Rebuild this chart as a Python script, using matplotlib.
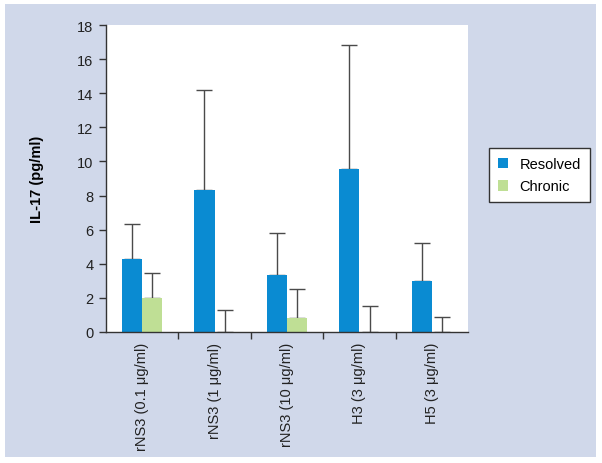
import matplotlib
matplotlib.use("Agg")
import matplotlib.pyplot as plt
import numpy as np
from matplotlib.patches import Rectangle

plt.rcParams['font.family'] = ['Liberation Sans', 'DejaVu Sans']

categories = ["rNS3 (0.1 μg/ml)", "rNS3 (1 μg/ml)", "rNS3 (10 μg/ml)", "H3 (3 μg/ml)", "H5 (3 μg/ml)"]
resolved = [4.26, 8.32, 3.34, 9.54, 3.01]
resolved_err_top = [6.35, 14.18, 5.79, 16.84, 5.24]
chronic = [1.97, 0.0, 0.84, 0.0, 0.0]
chronic_err_top = [3.48, 1.27, 2.52, 1.50, 0.90]
yticks = [0, 2, 4, 6, 8, 10, 12, 14, 16, 18]

blue = "#0a8bd2"
green = "#bfdf95"
panel = "#d0d8ea"
dark = "#333333"

fig = plt.figure(figsize=(6.02, 4.64), dpi=100, facecolor="white")
fig.patches.append(Rectangle((5/602, 1-458/464), 591/602, 453/464, transform=fig.transFigure,
                             facecolor=panel, edgecolor="none", zorder=-10))

ax = fig.add_axes([106/602, 1-333/464, 362/602, 307/464])
ax.set_facecolor("white")

x = np.arange(len(categories))
w = 0.28
ax.bar(x - w/2, resolved, w, color=blue, label="Resolved", zorder=2)
ax.bar(x + w/2, chronic, w, color=green, label="Chronic", zorder=2)

r_up = np.array(resolved_err_top) - np.array(resolved)
c_up = np.array(chronic_err_top) - np.array(chronic)
ax.errorbar(x - w/2, resolved, yerr=[np.zeros(len(x)), r_up], fmt="none",
            ecolor="#4a4a4a", elinewidth=1, capsize=6, capthick=1, zorder=1)
ax.errorbar(x + w/2, chronic, yerr=[np.zeros(len(x)), c_up], fmt="none",
            ecolor="#4a4a4a", elinewidth=1, capsize=6, capthick=1, zorder=1)

ax.set_xlim(-0.5, len(categories) - 0.5)
ax.set_ylim(0, 18)
ax.set_yticks(yticks)
ax.set_yticklabels([str(v) for v in yticks], fontsize=10.5, color="#222222")
ax.set_xticks(x)
ax.set_xticklabels(categories, rotation=90, fontsize=10.5, color="#222222")
ax.tick_params(axis="x", which="major", length=0, pad=7)
ax.set_xticks(np.arange(0.5, len(categories) - 1, 1.0), minor=True)
ax.tick_params(axis="x", which="minor", length=5, width=1, color=dark, direction="out")
ax.tick_params(axis="y", length=5, width=1, color=dark, direction="out", pad=4)

for s in ["top", "right"]:
    ax.spines[s].set_visible(False)
for s in ["left", "bottom"]:
    ax.spines[s].set_color(dark)
    ax.spines[s].set_linewidth(1)

ax.set_ylabel("IL-17 (pg/ml)", fontsize=10.5, fontweight="bold", labelpad=24)

leg = fig.legend(loc="upper left", bbox_to_anchor=(489/602, 1-149/464), bbox_transform=fig.transFigure,
                 borderaxespad=0, fontsize=10.5, handlelength=0.7, handleheight=0.7,
                 frameon=True, fancybox=False, edgecolor=dark, framealpha=1,
                 borderpad=0.6, labelspacing=0.6, handletextpad=0.8)
leg.get_frame().set_linewidth(1)

fig.savefig("out.png", dpi=100, facecolor="white")
